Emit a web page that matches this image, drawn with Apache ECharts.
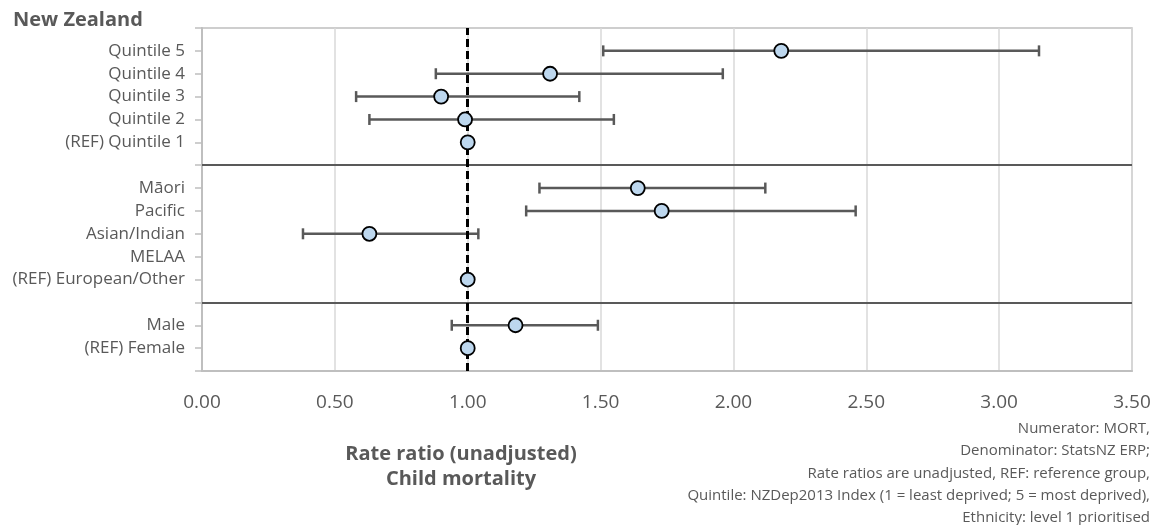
<!DOCTYPE html>
<html>
<head>
<meta charset="utf-8">
<script src="https://cdn.jsdelivr.net/npm/echarts@6/dist/echarts.min.js"></script>
<style>
html,body{margin:0;padding:0;background:#fff;}
#chart{width:1167px;height:525px;}
</style>
</head>
<body>
<div id="chart"></div>
<script>
// Rows from top to bottom ('' = separator slot)
const rowLabels = ['Quintile 5','Quintile 4','Quintile 3','Quintile 2','(REF) Quintile 1','',
  'Māori','Pacific','Asian/Indian','MELAA','(REF) European/Other','',
  'Male','(REF) Female'];
const estimates = [2.18, 1.31, 0.90, 0.99, 1.00, null, 1.64, 1.73, 0.63, null, 1.00, null, 1.18, 1.00];
const lowerCI   = [1.51, 0.88, 0.58, 0.63, null, null, 1.27, 1.22, 0.38, null, null, null, 0.94, null];
const upperCI   = [3.15, 1.96, 1.42, 1.55, null, null, 2.12, 2.46, 1.04, null, null, null, 1.49, null];
const xTicks = [0, 0.5, 1, 1.5, 2, 2.5, 3, 3.5];
const refValue = 1.0;
const titleText = 'New Zealand';
const axisTitle = ['Rate ratio (unadjusted)', 'Child mortality'];
const notes = ['Numerator: MORT,', 'Denominator: StatsNZ ERP;',
  'Rate ratios are unadjusted, REF: reference group,',
  'Quintile: NZDep2013 Index (1 = least deprived; 5 = most deprived),',
  'Ethnicity: level 1 prioritised'];

const nRows = rowLabels.length;           // 14
const yMax = nRows + 1;                   // 15
const yOf = i => nRows - i;               // top row -> 14
const labelByY = {};
rowLabels.forEach((l, i) => { labelByY[yOf(i)] = l; });
const separators = rowLabels.map((l, i) => l === '' ? yOf(i) : null).filter(v => v !== null);

const pointData = [];
const ciData = [];
rowLabels.forEach((l, i) => {
  if (estimates[i] != null) pointData.push([estimates[i], yOf(i)]);
  if (lowerCI[i] != null && upperCI[i] != null) ciData.push([lowerCI[i], upperCI[i], yOf(i)]);
});

const FONT = '"Open Sans", "Noto Sans", sans-serif';
const TXT = '#595959';

const chart = echarts.init(document.getElementById('chart'), null, {renderer: 'canvas'});
chart.setOption({
  animation: false,
  backgroundColor: '#fff',
  textStyle: {fontFamily: FONT},
  grid: {left: 202, right: 35, top: 28, bottom: 154, show: true, borderColor: '#bfbfbf', borderWidth: 1.5, backgroundColor: 'transparent'},
  xAxis: {
    type: 'value', min: xTicks[0], max: xTicks[xTicks.length - 1], interval: 0.5,
    axisLine: {show: true, lineStyle: {color: '#bfbfbf', width: 2}},
    axisTick: {show: false},
    splitLine: {show: true, lineStyle: {color: '#d9d9d9', width: 1.5}},
    axisLabel: {color: TXT, fontSize: 19, fontFamily: FONT, margin: 22, formatter: v => v.toFixed(2)}
  },
  yAxis: {
    type: 'value', min: 0, max: yMax, interval: 1,
    axisLine: {show: true, lineStyle: {color: '#bfbfbf', width: 2}},
    axisTick: {show: true, inside: false, length: 7, lineStyle: {color: '#bfbfbf', width: 1.5}},
    splitLine: {show: false},
    axisLabel: {color: TXT, fontSize: 17, fontFamily: FONT, margin: 17, formatter: v => labelByY[v] || ''}
  },
  series: [
    {
      type: 'line', data: [], z: 2, silent: true,
      markLine: {
        silent: true, symbol: 'none', label: {show: false},
        lineStyle: {color: '#595959', width: 2, type: 'solid'},
        data: separators.map(y => ({yAxis: y}))
      }
    },
    {
      type: 'custom', z: 3, silent: true,
      encode: {x: [0, 1], y: 2},
      data: ciData,
      renderItem: function (params, api) {
        const p1 = api.coord([api.value(0), api.value(2)]);
        const p2 = api.coord([api.value(1), api.value(2)]);
        const h = 5.5;
        const st = {stroke: '#595959', lineWidth: 2.5};
        return {
          type: 'group',
          children: [
            {type: 'line', shape: {x1: p1[0], y1: p1[1], x2: p2[0], y2: p2[1]}, style: st},
            {type: 'line', shape: {x1: p1[0], y1: p1[1] - h, x2: p1[0], y2: p1[1] + h}, style: st},
            {type: 'line', shape: {x1: p2[0], y1: p2[1] - h, x2: p2[0], y2: p2[1] + h}, style: st}
          ]
        };
      }
    },
    {
      type: 'line', data: [], z: 4, silent: true,
      markLine: {
        silent: true, symbol: 'none', label: {show: false},
        lineStyle: {color: '#000', width: 3, type: [8, 4]},
        data: [{xAxis: refValue}]
      }
    },
    {
      type: 'scatter', z: 5, data: pointData,
      symbol: 'circle', symbolSize: 14,
      itemStyle: {color: '#bdd7ee', borderColor: '#000', borderWidth: 1.8, opacity: 1}
    }
  ],
  graphic: [
    {type: 'text', left: 13, top: 10, style: {text: titleText, font: 'bold 20px ' + FONT, fill: TXT}},
    {type: 'text', x: 461, y: 454, style: {text: axisTitle[0], font: 'bold 20px ' + FONT, fill: TXT, textAlign: 'center', textVerticalAlign: 'middle'}},
    {type: 'text', x: 461, y: 479, style: {text: axisTitle[1], font: 'bold 20px ' + FONT, fill: TXT, textAlign: 'center', textVerticalAlign: 'middle'}}
  ].concat(notes.map((t, i) => ({
    type: 'text', x: 1150, y: 429 + i * 22.2,
    style: {text: t, font: '15px ' + FONT, fill: TXT, textAlign: 'right', textVerticalAlign: 'middle'}
  })))
});
</script>
</body>
</html>
